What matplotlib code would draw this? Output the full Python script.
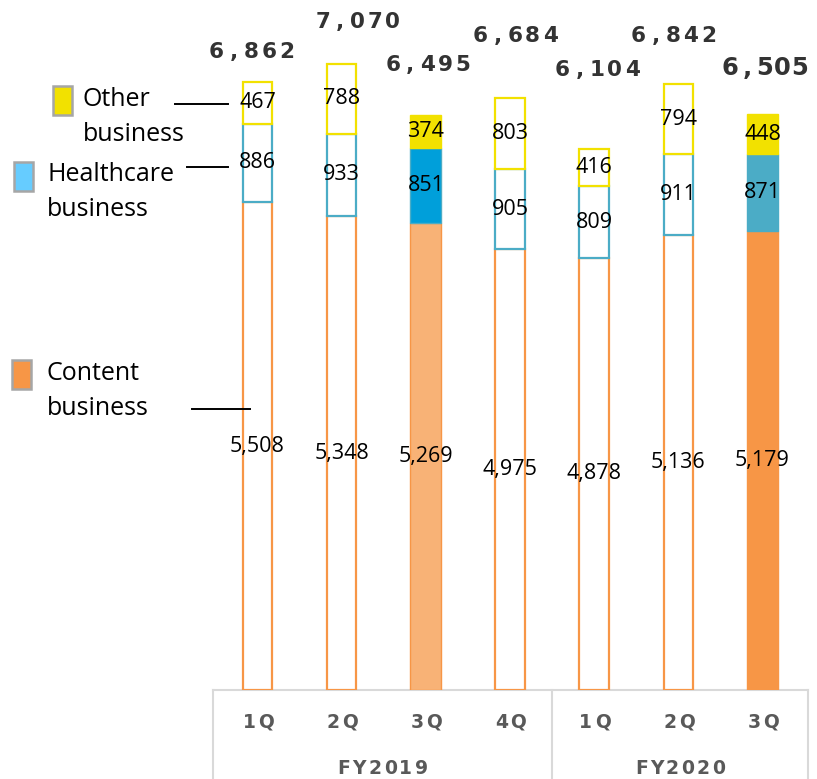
import matplotlib
matplotlib.use("Agg")
import matplotlib.pyplot as plt

plt.rcParams['font.family'] = ['Open Sans', 'DejaVu Sans']

# --- data ---
quarters = ["1Q", "2Q", "3Q", "4Q", "1Q", "2Q", "3Q"]
years = ["FY2019", "FY2020"]
content = [5508, 5348, 5269, 4975, 4878, 5136, 5179]
healthcare = [886, 933, 851, 905, 809, 911, 871]
other = [467, 788, 374, 803, 416, 794, 448]
totals = [6862, 7070, 6495, 6684, 6104, 6842, 6505]
segment_names = ["Other\nbusiness", "Healthcare\nbusiness", "Content\nbusiness"]

# --- style ---
W, H = 817, 779
YELLOW = "#F2E100"
BLUE_EDGE = "#4BACC6"
ORANGE = "#F79646"
# outlined bars vs filled ones (3Q of each year)
filled = [False, False, True, False, False, False, True]
fill_colors = {2: ("#F8B276", "#009FDA", YELLOW), 6: (ORANGE, "#4BACC6", YELLOW)}
# hand placed total labels (px offsets from bar top-centre)
total_dx = [-6, 16, 2, 5, 3, -5, 2]
total_dy = [30, 42, 50, 62, 79, 48, 46]
total_size = [15.5, 15.5, 15.5, 15.5, 15.5, 15.5, 17.5]

PX = 0.72  # points per pixel at dpi 100


def fx(x):
    return x / W


def fy(y):
    return 1 - y / H


fig = plt.figure(figsize=(W / 100, H / 100), dpi=100)
ax_left, ax_right, base_px = 213, 808, 690
ax = fig.add_axes([fx(ax_left), fy(base_px), (ax_right - ax_left) / W, base_px / H])

x0_px, pitch_px = 257.5, 84.17
xs = list(range(len(quarters)))
xmin = (ax_left - x0_px) / pitch_px
xmax = (ax_right - x0_px) / pitch_px
ax.set_xlim(xmin, xmax)
ax.set_ylim(0, base_px * 11.29)
ax.axis("off")

bottoms_h = content
bottoms_o = [c + h for c, h in zip(content, healthcare)]
for i in xs:
    if filled[i]:
        c_col, h_col, o_col = fill_colors[i]
        ax.bar(i, content[i], 0.37, color=c_col, edgecolor=ORANGE, lw=1)
        ax.bar(i, healthcare[i], 0.37, bottom=bottoms_h[i], color=h_col, edgecolor=BLUE_EDGE, lw=1)
        ax.bar(i, other[i], 0.37, bottom=bottoms_o[i], color=o_col, edgecolor=o_col, lw=1)
    else:
        ax.bar(i, content[i], 0.35, color="white", edgecolor=ORANGE, lw=1.6)
        ax.bar(i, healthcare[i], 0.35, bottom=bottoms_h[i], color="white", edgecolor=BLUE_EDGE, lw=1.6)
        ax.bar(i, other[i], 0.35, bottom=bottoms_o[i], color="white", edgecolor=YELLOW, lw=1.6)

    # segment values
    for val, bot in ((content[i], 0), (healthcare[i], bottoms_h[i]), (other[i], bottoms_o[i])):
        ax.text(i, bot + val / 2, f"{val:,}", ha="center", va="center",
                fontsize=15.5, color="black", zorder=5)


def spaced(xy, s, dx, dy, pitch, xycoords="data", **kw):
    """letter-spaced text, one char at a time, offset in pixels"""
    n = len(s)
    for k, ch in enumerate(s):
        ax.annotate(ch, xy=xy, xycoords=xycoords,
                    xytext=((dx + (k - (n - 1) / 2) * pitch) * PX, dy * PX),
                    textcoords="offset points", ha="center", va="center",
                    annotation_clip=False, **kw)


# totals above bars
for i in xs:
    spaced((i, totals[i]), f"{totals[i]:,}", total_dx[i], total_dy[i], 17.5,
           fontsize=total_size[i], fontweight="bold", color="#333333",
           family="DejaVu Sans")

# category axis: quarter + fiscal year table
tick_kw = dict(fontsize=13.5, fontweight="bold", color="#595959", family="DejaVu Sans")
for i in xs:
    spaced((i, 0), quarters[i], 0, -32, 17, **tick_kw)
bottom_ax = -(H - base_px) / base_px
grid_col = "#D9D9D9"
trans = ax.get_xaxis_transform()
ax.plot([xmin, xmax], [0, 0], color=grid_col, lw=1.5, transform=trans, clip_on=False, zorder=0)
for xv in (xmin, 3.5, xmax):
    ax.plot([xv, xv], [0, bottom_ax], color=grid_col, lw=1.5, transform=trans, clip_on=False)
year_centres = [(xmin + 3.5) / 2, (3.5 + xmax) / 2]
for yc, yr in zip(year_centres, years):
    spaced((yc, 0), yr, 0, -78, 15.5, xycoords=trans, **tick_kw)

# legend on the left (swatch box, label, leader line), in figure pixels
legend_items = [
    # swatch x0, y0, text x, text y, line x0, x1, y, colour
    (53, 86, 83, 117, 175, 228, 104, YELLOW),
    (14, 162, 47, 192, 187, 228, 167, "#66CCFF"),
    (12, 360, 47, 391, 192, 250, 409, ORANGE),
]
for name, (sx, sy, tx, ty, lx0, lx1, ly, col) in zip(segment_names, legend_items):
    fig.patches.append(plt.Rectangle((fx(sx), fy(sy + 29)), 19 / W, 29 / H,
                                     transform=fig.transFigure, facecolor=col,
                                     edgecolor="#A6A6A6", lw=1.8))
    fig.text(fx(tx), fy(ty), name, ha="left", va="center", fontsize=18,
             color="black", linespacing=1.5)
    fig.add_artist(plt.Line2D([fx(lx0), fx(lx1)], [fy(ly), fy(ly)],
                              transform=fig.transFigure, color="black", lw=1.4, zorder=10))

fig.savefig("out.png", dpi=100)
